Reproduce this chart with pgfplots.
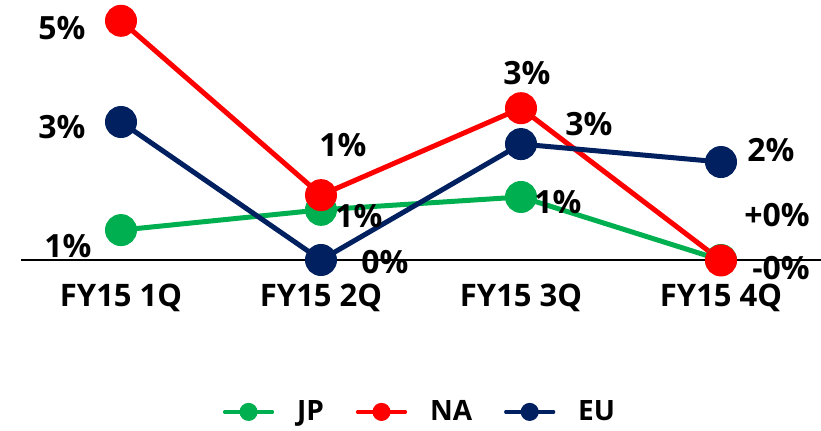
\documentclass[border=0pt]{standalone}
\usepackage{pgfplots}
\pgfplotsset{compat=1.18}
\usepackage{pgfplotstable}
\usepackage{fontspec}
\setmainfont{Open Sans}
\definecolor{jp}{HTML}{00B050}
\definecolor{na}{HTML}{FF0000}
\definecolor{eu}{HTML}{002060}

% x y label dx dy (label offsets in pt)
\pgfplotstableread{
x y lab dx dy
0 0.65 1 -26.5 -8
1 1.09 1 19 -3
2 1.37 1 18.5 -2.5
3 0.00 +0 28 22.5
}\jpdata
\pgfplotstableread{
x y lab dx dy
0 5.20 5 -29.5 -3.5
1 1.41 1 11 25
2 3.30 3 3 17.5
3 -0.01 -0 30 -4
}\nadata
\pgfplotstableread{
x y lab dx dy
0 3.00 3 -29.5 -2.5
1 0.00 0 32 -1
2 2.52 3 34 10
3 2.13 2 25 6
}\eudata

\begin{document}
\begin{tikzpicture}
\useasboundingbox (-10.5pt,-65pt) rectangle (400pt,150pt);
\begin{axis}[
  at={(0,0)}, anchor=south west,
  scale only axis, width=400pt, height=150pt,
  xmin=-0.5, xmax=3.5, ymin=-0.8696, ymax=5.652,
  axis x line=middle, axis y line=none,
  axis line style={-, line width=0.8pt, black},
  xtick={0,1,2,3}, xticklabels={FY15 1Q,FY15 2Q,FY15 3Q,FY15 4Q},
  hide obscured x ticks=false, major tick length=0pt,
  xticklabel style={anchor=center, yshift=-19pt,
    font=\fontsize{15.5}{17}\selectfont\bfseries},
  clip=false,
  every axis plot/.append style={line width=2.5pt, mark=*, mark size=6.75pt},
  lbl/.style={
    nodes near coords={\pgfplotspointmeta\%},
    point meta=explicit symbolic,
    visualization depends on={\thisrow{dx}\as\dx},
    visualization depends on={\thisrow{dy}\as\dy},
    every node near coord/.append style={anchor=center, black,
      xshift=\dx pt, yshift=\dy pt,
      font=\fontsize{16}{18}\selectfont\bfseries},
  },
  legend columns=3,
  legend style={at={(0.50,-0.373)}, anchor=center, draw=none, fill=none,
    font=\fontsize{14}{16}\selectfont\bfseries,
    /tikz/every even column/.append style={column sep=14pt}},
  legend image code/.code={
    \draw[#1, mark=none, line width=1.6pt, line cap=round] (0pt,0pt) -- (24pt,0pt);
    \draw[#1, mark size=3.25pt] plot coordinates {(12pt,0pt)};
    \path (33pt,0pt);
  },
]
\addplot[lbl, color=jp, mark options={fill=jp, draw=none}]
  table[x=x, y=y, meta=lab] {\jpdata};
\addplot[lbl, color=na, mark options={fill=na, draw=none}]
  table[x=x, y=y, meta=lab] {\nadata};
\addplot[lbl, color=eu, mark options={fill=eu, draw=none}]
  table[x=x, y=y, meta=lab] {\eudata};
\legend{JP, NA, EU}
\end{axis}
\end{tikzpicture}
\end{document}
